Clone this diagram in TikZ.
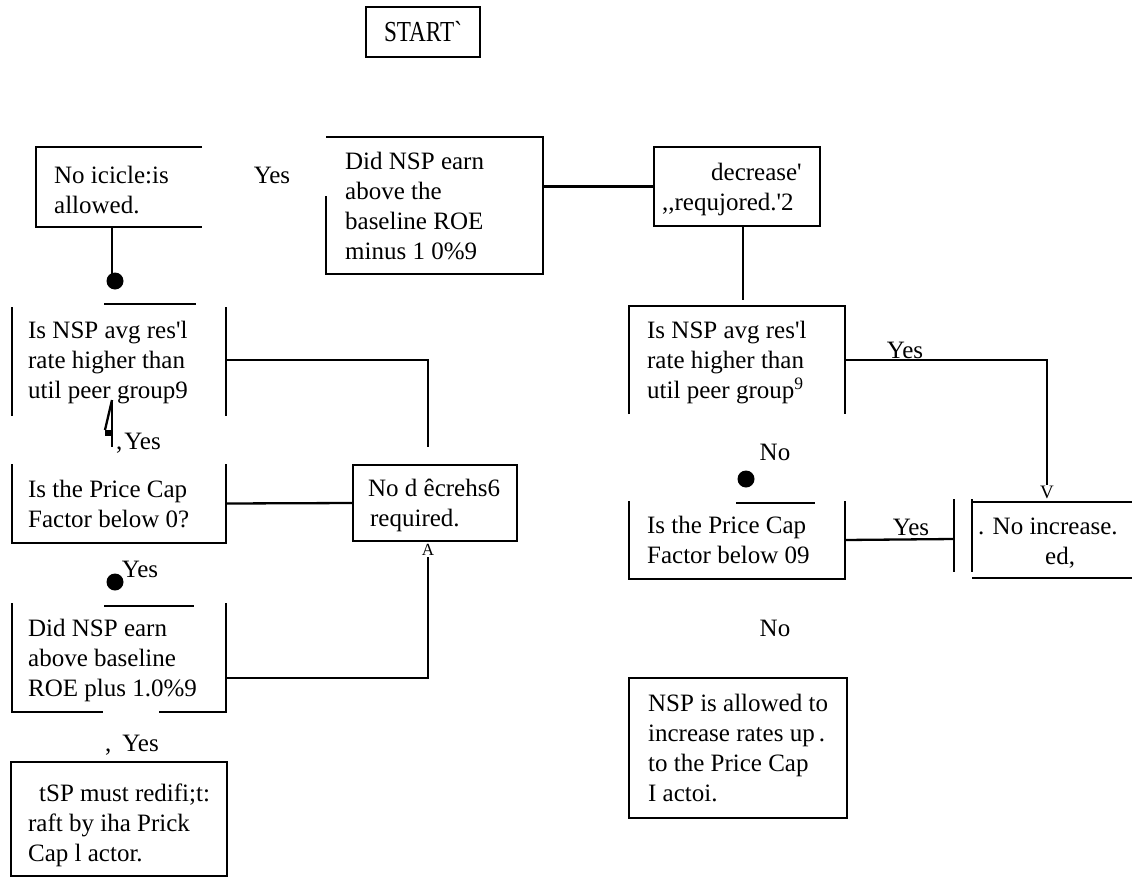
\documentclass[tikz,border=0pt]{standalone}
\usepackage{fontspec}
\setmainfont{Liberation Serif}[Ligatures=TeXOff]
\newfontfamily\startfont{Liberation Serif}[FakeStretch=0.8, Ligatures=TeXOff]
\usetikzlibrary{positioning}

\newcommand{\boxfont}{\fontsize{25}{30}\selectfont}

\tikzset{
  flowframe/.style={anchor=north west, inner sep=0pt, outer sep=0pt},
  flowtext/.style={align=left, inner sep=0pt, font=\boxfont},
  blob/.style={circle, fill, inner sep=0pt, minimum size=17pt},
  headglyph/.style={inner sep=0pt, font=\fontsize{19}{19}\selectfont},
  note/.style={inner sep=0pt, font=\boxfont},
}

\begin{document}
\begin{tikzpicture}[x=1pt, y=-1pt, line width=2.3pt]
  \useasboundingbox (0,0) rectangle (1132,878);

  % Boxes
  \node[flowframe, draw, minimum width=114pt, minimum height=50pt, font=\startfont\fontsize{29}{29}\selectfont] (start) at (366,7) {START`};
  \node[flowframe, minimum width=166pt, minimum height=80pt] (noIcicle) at (36,147) {};
  \node[flowframe, minimum width=217pt, minimum height=137pt] (didA) at (326,137) {};
  \node[flowframe, draw, minimum width=166pt, minimum height=79pt] (decr) at (654,147) {};
  \node[flowframe, minimum width=214pt, minimum height=112pt] (lIsNsp) at (12,304) {};
  \node[flowframe, minimum width=216pt, minimum height=108pt] (rIsNsp) at (629,306) {};
  \node[flowframe, minimum width=214pt, minimum height=79pt] (lPrice) at (12,464) {};
  \node[flowframe, draw, minimum width=164pt, minimum height=76pt] (noDecr) at (353,465) {};
  \node[flowframe, minimum width=216pt, minimum height=78pt] (rPrice) at (629,501) {};
  \node[flowframe, minimum width=180pt, minimum height=76pt] (noInc) at (972,502) {};
  \node[flowframe, minimum width=214pt, minimum height=109pt] (lDid) at (12,603) {};
  \node[flowframe, draw, minimum width=218pt, minimum height=140pt] (nspUp) at (629,678) {};
  \node[flowframe, draw, minimum width=216pt, minimum height=114pt] (tspCut) at (11,762) {};

  % Box texts
  \node[flowtext, right=17pt of noIcicle.west, yshift=-3pt] (noIcicleTxt) {No icicle:is\\allowed.};
  \node[flowtext, right=18pt of didA.west] (didATxt) {Did NSP earn\\above the\\baseline ROE\\minus 1 0\%9};
  \node[flowtext, right=7pt of decr.west, yshift=-3pt] (decrTxt) {\hspace*{49pt}decrease'\\,,requjored.'2};
  \node[flowtext, right=15pt of lIsNsp.west, yshift=-3pt] (lIsNspTxt) {Is NSP avg res'l\\rate higher than\\util peer group9};
  \node[flowtext, right=17pt of rIsNsp.west, yshift=-3pt] (rIsNspTxt) {Is NSP avg res'l\\rate higher than\\util peer group\textsuperscript{9}};
  \node[flowtext, right=15pt of lPrice.west] (lPriceTxt) {Is the Price Cap\\Factor below 0?};
  \node[flowtext, right=14pt of noDecr.west, yshift=-2pt] (noDecrTxt) {No d êcrehs6\\\hspace*{2pt}required.};
  \node[flowtext, right=17pt of rPrice.west] (rPriceTxt) {Is the Price Cap\\Factor below 09};
  \node[flowtext, right=5pt of noInc.west, yshift=-3pt] (noIncTxt) {. No increase.\\\hspace*{67pt}ed,};
  \node[flowtext, right=15pt of lDid.west, yshift=-3pt] (lDidTxt) {Did NSP earn\\above baseline\\ROE plus 1.0\%9};
  \node[flowtext, right=18pt of nspUp.west] (nspUpTxt) {NSP is allowed to\\increase rates up\,.\\to the Price Cap\\I actoi.};
  \node[flowtext, right=16pt of tspCut.west, yshift=-6pt] (tspCutTxt) {\hspace*{11pt}tSP must redifi;t:\\raft by iha Prick\\Cap l actor.};

  % Box edges
  \draw (noIcicle.north east) -- (noIcicle.north west) -- (noIcicle.south west) -- (noIcicle.south east);
  \draw (didA.north west) -- (didA.north east) -- (didA.south east) -- (didA.south west) -- ++(0,-78);
  \draw ([xshift=92pt]lIsNsp.north west) -- ++(92,0);
  \draw (lIsNsp.north west) ++(0,3) -- (lIsNsp.south west);
  \draw (lIsNsp.north east) ++(0,3) -- (lIsNsp.south east);
  \draw (rIsNsp.south west) -- (rIsNsp.north west) -- (rIsNsp.north east) -- (rIsNsp.south east);
  \draw (lPrice.north west) -- (lPrice.south west) -- (lPrice.south east) -- (lPrice.north east);
  \draw ([xshift=107pt]rPrice.north west) ++(0,2) -- ++(79,0);
  \draw (rPrice.north west) -- (rPrice.south west) -- (rPrice.south east) -- (rPrice.north east);
  \draw (noInc.north east) -- (noInc.north west);
  \draw (noInc.south west) -- (noInc.south east);
  \draw (noInc.north west) ++(0,-3) -- ++(0,73);
  \draw ([xshift=92pt]lDid.north west) ++(0,3) -- ++(90,0);
  \draw (lDid.north west) -- (lDid.south west) -- ++(91,0);
  \draw (lDid.north east) -- (lDid.south east) -- ++(-67,0);

  % Dots and arrow glyphs
  \node[blob] (dotA) at (115,281) {};
  \node[blob] (dotB) at (115,582) {};
  \node[blob] (dotC) at (746,479) {};
  \node[headglyph, anchor=south] (downTip) at (1047,500) {V};
  \node[headglyph, anchor=south, font=\fontsize{17}{17}\selectfont] (upTip) at (428,557) {A};
  \coordinate (bentTip) at (112,400);

  % Labels
  \node[note] (yesA) at (272,175) {Yes};
  \node[note] (yesB) at (905,350) {Yes};
  \node[note] (yesC) at (911,527) {Yes};
  \node[note, anchor=west] (yesD) at (115,443) {,\hspace{2pt}Yes};
  \node[note] (yesE) at (140,569) {Yes};
  \node[note, anchor=west] (yesF) at (104,745) {,\hspace{11pt}Yes};
  \node[note] (noA) at (775,452) {No};
  \node[note] (noB) at (775,628) {No};

  % Connectors
  \draw (didA.east |- decr.west) -- (decr.west);
  \coordinate (decrDrop) at (743,300);
  \draw (decrDrop |- decr.south) -- (decrDrop);
  \coordinate (icicleStem) at (112,277);
  \draw (icicleStem |- noIcicle.south) -- (icicleStem);
  \coordinate (leftJoin) at (428,447);
  \draw (lIsNsp.east) -| (leftJoin);
  \draw (lPrice.east) -- (noDecr.west);
  \coordinate (lowJoin) at (428,678);
  \draw (upTip.south) -- (lowJoin) -- (lDid.east |- lowJoin);
  \draw (rIsNsp.east) -| (downTip.north);
  \coordinate (barMid) at (954,539);
  \draw (rPrice.east) -- (barMid);
  \draw (barMid) ++(0,-40) -- ++(0,73);
  \draw (bentTip) -- ++(0,47);
  \draw (bentTip) -- ++(-7,30);
  \fill (bentTip) ++(-7,30) rectangle ++(8,6);
\end{tikzpicture}
\end{document}
